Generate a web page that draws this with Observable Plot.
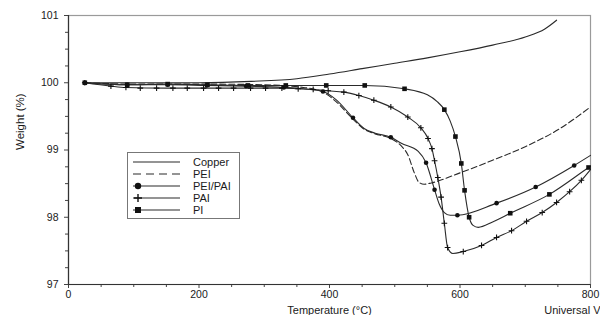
<!DOCTYPE html>
<html>
<head>
<meta charset="utf-8">
<script src="https://cdn.jsdelivr.net/npm/d3@7"></script>
<script src="https://cdn.jsdelivr.net/npm/@observablehq/plot@0.6"></script>
<style>
  html, body { margin: 0; padding: 0; background: #fff; }
  svg { display: block; }
</style>
</head>
<body>
<script>
// ---- Data (Temperature °C, Weight %) ----
const seriesNames = ["Copper", "PEI", "PEI/PAI", "PAI", "PI"];

const copperT = [25, 100, 200, 280, 350, 400, 450, 500, 550, 600, 650, 700, 730, 748];
const copperW = [100, 100, 100.0, 100.02, 100.06, 100.13, 100.21, 100.29, 100.37, 100.46, 100.56, 100.68, 100.8, 100.93];

const peiT = [25, 100, 200, 300, 360, 390, 410, 436, 453, 470, 494, 510, 520, 530, 537, 545, 556, 600, 648, 700, 750, 800];
const peiW = [100, 99.98, 99.98, 99.97, 99.93, 99.86, 99.72, 99.46, 99.31, 99.24, 99.17, 99.06, 98.93, 98.66, 98.52, 98.49, 98.51, 98.66, 98.84, 99.05, 99.3, 99.64];

const peiPaiT = [25, 90, 152, 212, 272, 330, 360, 390, 410, 436, 453, 470, 494, 510, 536, 548, 561, 568, 576, 585, 596, 656, 716, 775, 800];
const peiPaiW = [100, 99.97, 99.97, 99.96, 99.95, 99.93, 99.91, 99.87, 99.75, 99.48, 99.32, 99.25, 99.19, 99.1, 98.98, 98.81, 98.41, 98.2, 98.07, 98.03, 98.03, 98.21, 98.45, 98.77, 98.92];
const peiPaiMarkT = [25, 90, 152, 212, 272, 330, 390, 436, 494, 548, 561, 596, 656, 716, 775];
const peiPaiMarkW = [100, 99.97, 99.97, 99.96, 99.95, 99.93, 99.87, 99.48, 99.19, 98.81, 98.41, 98.03, 98.21, 98.45, 98.77];

const paiT = [25, 65, 88, 150, 250, 330, 352, 375, 398, 422, 445, 468, 494, 520, 540, 551, 557, 561, 566, 571, 576, 581, 589, 605, 633, 656, 679, 702, 726, 748, 768, 786, 800];
const paiW = [100, 99.95, 99.93, 99.92, 99.92, 99.92, 99.91, 99.9, 99.88, 99.86, 99.81, 99.74, 99.64, 99.49, 99.33, 99.17, 99.02, 98.84, 98.59, 98.3, 97.91, 97.55, 97.46, 97.49, 97.58, 97.7, 97.8, 97.94, 98.07, 98.22, 98.38, 98.55, 98.71];
const paiMarkT = [25, 65, 88, 110, 135, 160, 182, 207, 230, 253, 279, 302, 327, 352, 375, 398, 422, 445, 468, 494, 520, 540, 551, 557, 561, 566, 571, 576, 581, 605, 633, 656, 679, 702, 726, 748, 768, 786];
const paiMarkW = [100, 99.95, 99.93, 99.92, 99.92, 99.92, 99.92, 99.92, 99.92, 99.92, 99.92, 99.92, 99.92, 99.91, 99.9, 99.88, 99.86, 99.81, 99.74, 99.64, 99.49, 99.33, 99.17, 99.02, 98.84, 98.59, 98.3, 97.91, 97.55, 97.49, 97.58, 97.7, 97.8, 97.94, 98.07, 98.22, 98.38, 98.55];

const piT = [25, 90, 152, 213, 275, 333, 395, 454, 515, 550, 565, 576, 585, 593, 602, 607, 614, 620, 628, 650, 677, 737, 797, 800];
const piW = [100, 99.97, 99.98, 99.97, 99.96, 99.96, 99.96, 99.96, 99.91, 99.82, 99.72, 99.6, 99.43, 99.2, 98.8, 98.4, 98.0, 97.88, 97.85, 97.93, 98.06, 98.34, 98.74, 98.76];
const piMarkT = [25, 90, 152, 213, 275, 333, 395, 454, 515, 576, 593, 602, 607, 614, 677, 737, 797];
const piMarkW = [100, 99.97, 99.98, 99.97, 99.96, 99.96, 99.96, 99.96, 99.91, 99.6, 99.2, 98.8, 98.4, 98.0, 98.06, 98.34, 98.74];

const xTicks = [0, 200, 400, 600, 800];
const xMinor = [50, 100, 150, 250, 300, 350, 450, 500, 550, 650, 700, 750];
const yTicks = [97, 98, 99, 100, 101];
const yMinor = [97.25, 97.5, 97.75, 98.25, 98.5, 98.75, 99.25, 99.5, 99.75, 100.25, 100.5, 100.75];

const xLabel = "Temperature (\u00B0C)";
const yLabel = "Weight (%)";
const footer = "Universal V";

// ---- Build tables ----
const rows = (name, T, W) => T.map((t, i) => ({series: name, T: t, W: W[i]}));
const copper = rows("Copper", copperT, copperW);
const pei = rows("PEI", peiT, peiW);
const peiPai = rows("PEI/PAI", peiPaiT, peiPaiW);
const pai = rows("PAI", paiT, paiW);
const pi = rows("PI", piT, piW);
const peiPaiMarks = rows("PEI/PAI", peiPaiMarkT, peiPaiMarkW);
const paiMarks = rows("PAI", paiMarkT, paiMarkW);
const piMarks = rows("PI", piMarkT, piMarkW);

const ink = "#2a2a2a";
const lineOpts = {x: "T", y: "W", stroke: ink, strokeWidth: 1.1, curve: "monotone-x"};

const chart = Plot.plot({
  width: 600,
  height: 315,
  marginLeft: 68,
  marginRight: 10,
  marginTop: 15,
  marginBottom: 31,
  x: {domain: [0, 800]},
  y: {domain: [97, 101]},
  style: {fontFamily: "'Liberation Sans', Arial, sans-serif", fontSize: "11px", color: "#1a1a1a", background: "#fff", overflow: "visible"},
  marks: [
    Plot.frame({stroke: "#9a9a9a", strokeWidth: 1.2}),
    Plot.axisX({ticks: xMinor, tickSize: 3, text: null, label: null, stroke: "#444"}),
    Plot.axisX({ticks: xTicks, tickSize: 4, tickPadding: 2, label: null, stroke: "#444", fontSize: 10.5, tickFormat: d => String(d)}),
    Plot.axisY({ticks: yMinor, tickSize: 3, text: null, label: null, stroke: "#444"}),
    Plot.axisY({ticks: yTicks, tickSize: 4, tickPadding: 6, label: null, stroke: "#444", fontSize: 10.5, tickFormat: d => String(d)}),
    Plot.ruleX([0], {stroke: "#333", strokeWidth: 1.2}),
    Plot.ruleY([97], {stroke: "#333", strokeWidth: 1.2}),
    Plot.line(copper, lineOpts),
    Plot.line(pei, {...lineOpts, strokeDasharray: "6,3"}),
    Plot.line(peiPai, lineOpts),
    Plot.line(pai, lineOpts),
    Plot.line(pi, lineOpts),
    Plot.dot(peiPaiMarks, {x: "T", y: "W", symbol: "circle", r: 2.3, fill: "#111", stroke: "none"}),
    Plot.dot(paiMarks, {x: "T", y: "W", symbol: "plus", r: 2.0, stroke: "#111", strokeWidth: 1.1, fill: "none"}),
    Plot.dot(piMarks, {x: "T", y: "W", symbol: "square", r: 2.6, fill: "#111", stroke: "none"}),
    Plot.text([yLabel], {frameAnchor: "left", dx: -48, rotate: -90, fontSize: 11.5, fill: "#1a1a1a"}),
    Plot.text([xLabel], {frameAnchor: "bottom", dy: 26, lineAnchor: "middle", fontSize: 11, fill: "#1a1a1a"}),
    Plot.text([footer], {frameAnchor: "bottom-right", dx: 10, dy: 26, lineAnchor: "middle", textAnchor: "end", fontSize: 11, fill: "#1a1a1a"})
  ]
});
document.body.appendChild(chart);

// ---- Legend box (layout only) ----
const svg = d3.select(chart);
const lg = svg.append("g").attr("font-family", "'Liberation Sans', Arial, sans-serif").attr("font-size", 11).attr("text-anchor", "start");
lg.append("rect").attr("x", 127.5).attr("y", 152.5).attr("width", 112).attr("height", 66)
  .attr("fill", "#fff").attr("stroke", "#777").attr("stroke-width", 1);
const legendStyle = {
  "Copper": {dash: null, marker: null},
  "PEI": {dash: "8,5", marker: null},
  "PEI/PAI": {dash: null, marker: "circle"},
  "PAI": {dash: null, marker: "plus"},
  "PI": {dash: null, marker: "square"}
};
seriesNames.forEach((name, i) => {
  const y = 162 + i * 12;
  const st = legendStyle[name];
  const ln = lg.append("line").attr("x1", 133).attr("x2", 180).attr("y1", y).attr("y2", y)
    .attr("stroke", ink).attr("stroke-width", 1.1);
  if (st.dash) ln.attr("stroke-dasharray", st.dash);
  if (st.marker === "circle") lg.append("circle").attr("cx", 138).attr("cy", y).attr("r", 3.2).attr("fill", "#111");
  if (st.marker === "square") lg.append("rect").attr("x", 135).attr("y", y - 3).attr("width", 6).attr("height", 6).attr("fill", "#111");
  if (st.marker === "plus") lg.append("path").attr("d", `M134,${y}H142M138,${y - 4}V${y + 4}`).attr("stroke", "#111").attr("stroke-width", 1.4);
  lg.append("text").attr("x", 193).attr("y", y).attr("dy", "0.35em").attr("fill", "#1a1a1a").text(name);
});
</script>
</body>
</html>
